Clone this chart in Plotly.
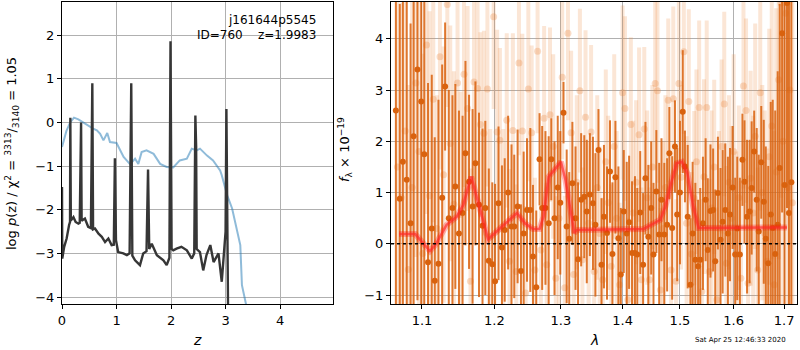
import plotly.graph_objects as go

# ---------------- left panel: redshift PDF ----------------
pz_z = [0.0, 0.005, 0.04, 0.085, 0.13, 0.147, 0.153, 0.162, 0.21, 0.25, 0.30, 0.325, 0.35, 0.36,
        0.42, 0.48, 0.53, 0.556, 0.57, 0.605, 0.67, 0.73, 0.79, 0.85, 0.91, 0.95, 0.97, 0.99,
        1.03, 1.125, 1.19, 1.24, 1.27, 1.29, 1.34, 1.43, 1.49, 1.55, 1.578, 1.60, 1.646, 1.74,
        1.86, 1.92, 1.97, 1.99, 2.01, 2.04, 2.10, 2.19, 2.29, 2.38, 2.425, 2.446, 2.46, 2.47,
        2.53, 2.59, 2.65, 2.72, 2.78, 2.87, 2.93, 2.96, 3.0, 3.015, 3.03, 3.05]
pz_logp = [-1.48, -3.12, -2.85, -2.66, -2.35, -2.28, 0.11, -2.25, -2.17, -2.28, -2.32, -2.3, 0.0, -2.25,
           -2.2, -2.39, -2.42, 0.9, -2.45, -2.43, -2.55, -2.62, -2.74, -2.66, -2.81, -2.8, -0.82, -2.7,
           -2.97, -3.0, -3.04, -3.0, 0.9, -3.05, -3.16, -3.27, -3.0, -2.95, -1.08, -2.9, -2.78, -3.04,
           -3.16, -3.27, -3.1, 1.86, -2.9, -2.93, -2.89, -2.85, -2.93, -3.12, -3.0, 0.16, -0.54, -2.9,
           -2.97, -3.39, -3.04, -2.81, -3.2, -3.0, -3.65, -3.2, -2.5, 0.31, -2.0, -5.0]

chi_z = [0.0, 0.08, 0.15, 0.22, 0.30, 0.39, 0.48, 0.57, 0.64, 0.70, 0.76, 0.83, 0.88, 1.0, 1.13,
         1.25, 1.34, 1.40, 1.46, 1.55, 1.68, 1.80, 1.92, 2.04, 2.16, 2.29, 2.38, 2.47, 2.53,
         2.66, 2.77, 2.90, 2.93, 3.03, 3.12, 3.27, 3.30, 3.38, 3.45]
chi_val = [-0.56, -0.2, 0.0, 0.11, 0.07, 0.0, -0.08, -0.14, -0.18, -0.26, -0.41, -0.24, -0.45, -0.47, -0.79,
           -0.96, -0.83, -0.95, -0.68, -0.64, -0.72, -0.95, -1.02, -1.03, -0.87, -0.83, -0.6, -0.64, -0.6,
           -0.76, -0.87, -1.1, -1.21, -1.67, -1.97, -2.81, -3.73, -4.14, -4.6]

# ---------------- right panel: 1D spectrum ----------------
dark_wave = [
    1.066, 1.071, 1.075, 1.080, 1.085, 1.089, 1.094, 1.099, 1.103, 1.108,
    1.113, 1.117, 1.122, 1.127, 1.131, 1.136, 1.141, 1.145, 1.150, 1.155,
    1.159, 1.164, 1.169, 1.173, 1.178, 1.183, 1.187, 1.192, 1.197, 1.201,
    1.206, 1.211, 1.215, 1.220, 1.225, 1.229, 1.234, 1.239, 1.243, 1.248,
    1.253, 1.257, 1.262, 1.267, 1.271, 1.276, 1.281, 1.285, 1.290, 1.295,
    1.299, 1.304, 1.309, 1.313, 1.318, 1.323, 1.327, 1.332, 1.337, 1.341,
    1.346, 1.351, 1.355, 1.360, 1.365, 1.369, 1.374, 1.379, 1.383, 1.388,
    1.393, 1.397, 1.402, 1.407, 1.411, 1.416, 1.421, 1.425, 1.430, 1.435,
    1.439, 1.444, 1.449, 1.453, 1.458, 1.463, 1.467, 1.472, 1.477, 1.481,
    1.486, 1.491, 1.495, 1.500, 1.505, 1.509, 1.514, 1.519, 1.523, 1.528,
    1.533, 1.537, 1.542, 1.547, 1.551, 1.556, 1.561, 1.565, 1.570, 1.575,
    1.579, 1.584, 1.589, 1.593, 1.598, 1.603, 1.607, 1.612, 1.617, 1.621,
    1.626, 1.631, 1.635, 1.640, 1.645, 1.649, 1.654, 1.659, 1.663, 1.668,
    1.673, 1.677, 1.682, 1.687, 1.691, 1.696, 1.701, 1.706, 1.710, 1.715]
dark_flux = [
    2.6, 0.88, 1.6, 1.25, 0.4, 2.1, 3.4, 2.78, 1.75, -0.36,
    0.3, -0.72, -0.39, 0.9, 3.07, 0.5, 0.7, 1.12, 0.2, 0.6,
    1.77, 1.21, 0.73, 1.57, 0.76, 0.35, 0.7, -0.33, -0.4, -0.73,
    0.79, -0.07, 0.27, 1.0, 0.34, 0.34, 0.73, -0.53, 0.2, 0.66,
    0.66, -0.25, -0.85, 1.65, 0.7, 0.7, 0.4, 1.65, 0.5, 1.1,
    0.8, 2.56, 0.34, 0.1, 1.18, 0.5, -0.3, 0.86, 0.92, 0.63,
    0.96, 0.79, 0.37, 1.83, -0.41, 0.53, 0.21, 1.41, -0.2, 1.3,
    0.11, -0.6, 0.63, 0.2, 0.42, -0.18, -0.18, -0.21, 0.61, -0.41,
    1.28, 0.14, 0.7, -0.21, 1.02, 0.18, 0.86, 0.18, 0.37, 1.77,
    0.31, 1.9, 0.57, 1.0, 2.58, 1.51, 0.53, -0.8, 0.2, -0.31,
    -0.44, -0.31, 0.4, 0.86, -0.12, 0.64, 0.66, -0.34, 0.99, 0.08,
    0.43, 0.66, 0.2, 0.57, 1.1, -0.21, 0.3, -0.21, 1.64, 1.21,
    0.53, 0.63, 1.09, 1.8, 0.86, 0.24, 1.59, 0.82, 0.1, -0.38,
    0.57, 0.31, -0.2, 0.37, 1.48, 4.11, 1.15, 4.7, 0.6, 1.2]
dark_err = [
    4.0, 3.8, 4.2, 3.6, 3.9, 4.1, 4.5, 4.0, 3.2, 3.5,
    3.0, 2.8, 3.2, 2.6, 1.25, 2.5, 2.2, 2.0, 2.4, 1.9,
    1.8, 1.7, 1.9, 1.6, 1.8, 1.9, 1.7, 1.8, 1.6, 1.9,
    1.5, 1.6, 1.4, 1.5, 1.6, 1.4, 1.5, 1.3, 1.6, 1.4,
    1.6, 1.4, 1.5, 0.9, 1.6, 1.5, 1.7, 0.8, 1.5, 1.4,
    1.4, 0.6, 1.5, 1.3, 1.2, 1.4, 1.5, 1.3, 1.2, 1.4,
    1.2, 1.3, 1.4, 0.8, 1.3, 1.4, 1.3, 1.0, 1.4, 1.1,
    1.4, 1.3, 1.2, 1.4, 1.3, 1.4, 1.5, 1.3, 1.2, 1.4,
    1.1, 1.4, 1.3, 1.4, 1.2, 1.4, 1.2, 1.4, 1.3, 0.9,
    1.4, 0.9, 1.3, 1.4, 1.2, 0.7, 1.4, 1.3, 1.4, 1.5,
    1.3, 1.4, 1.3, 1.2, 1.4, 1.3, 1.2, 1.4, 1.1, 1.4,
    1.4, 1.3, 1.5, 1.3, 1.2, 1.5, 1.4, 1.5, 0.9, 1.2,
    1.5, 1.4, 1.3, 0.8, 1.4, 1.5, 1.1, 1.6, 1.8, 1.9,
    2.2, 2.5, 2.8, 3.0, 3.2, 3.5, 3.8, 4.0, 4.2, 4.5]

light_wave = [
    1.068, 1.073, 1.078, 1.082, 1.087, 1.092, 1.096, 1.101, 1.106, 1.110,
    1.115, 1.120, 1.124, 1.129, 1.134, 1.138, 1.143, 1.148, 1.152, 1.157,
    1.162, 1.166, 1.171, 1.176, 1.180, 1.185, 1.190, 1.194, 1.199, 1.204,
    1.208, 1.213, 1.218, 1.222, 1.227, 1.232, 1.236, 1.241, 1.246, 1.250,
    1.255, 1.260, 1.264, 1.269, 1.274, 1.278, 1.283, 1.288, 1.292, 1.297,
    1.302, 1.306, 1.311, 1.316, 1.320, 1.325, 1.330, 1.334, 1.339, 1.344,
    1.348, 1.353, 1.358, 1.362, 1.367, 1.372, 1.376, 1.381, 1.386, 1.390,
    1.395, 1.400, 1.404, 1.409, 1.414, 1.418, 1.423, 1.428, 1.432, 1.437,
    1.442, 1.446, 1.451, 1.456, 1.460, 1.465, 1.470, 1.474, 1.479, 1.484,
    1.488, 1.493, 1.498, 1.502, 1.507, 1.512, 1.516, 1.521, 1.526, 1.530,
    1.535, 1.540, 1.544, 1.549, 1.554, 1.558, 1.563, 1.568, 1.572, 1.577,
    1.582, 1.586, 1.591, 1.596, 1.600, 1.605, 1.610, 1.614, 1.619, 1.624,
    1.628, 1.633, 1.638, 1.642, 1.647, 1.652, 1.656, 1.661, 1.666, 1.670,
    1.675, 1.680, 1.684, 1.689, 1.694, 1.698, 1.703, 1.708, 1.712, 1.717]
light_flux = [
    1.5, 0.9, 2.2, -0.5, 1.1, 3.14, 1.8, -0.19, 3.88, 0.94,
    2.82, 0.3, 3.65, 1.35, 4.67, 1.96, 0.77, 3.14, 0.57, 3.31,
    2.64, -0.73, 3.16, 3.03, 2.33, 2.16, 3.02, 0.14, 4.43, 2.18,
    2.02, 0.34, 2.41, -0.34, 2.21, -0.54, 3.53, 2.2, -0.96, 3.02,
    2.17, -0.51, 3.76, -0.12, 2.45, -0.41, 2.52, 1.9, -0.67, 0.5,
    3.25, -0.86, 4.11, 2.17, -0.6, 1.2, 2.99, -0.31, 2.47, 0.4,
    2.18, -0.54, 1.1, 0.2, -0.7, 1.6, 0.8, -0.44, 1.9, 0.5,
    -0.8, 2.95, 2.64, -1.09, 2.33, 0.6, 1.2, 2.13, -0.7, 2.24,
    0.9, -0.7, 1.5, 3.13, 2.99, -0.9, 0.3, 1.1, 2.8, -0.51,
    2.83, -0.73, 3.13, 1.3, 3.75, 0.4, 2.78, -0.2, 0.89, 1.6,
    2.66, -0.93, 1.31, 2.66, -0.54, 0.7, 1.5, -1.09, 0.3, 1.9,
    2.73, -0.38, 1.2, 0.5, 1.8, -0.2, 0.9, -0.67, 3.08, 2.6,
    -0.77, 1.28, 0.6, 2.1, -0.51, 2.95, 1.0, 0.2, -0.34, 1.7,
    2.3, -0.8, 1.4, 3.2, 4.7, 2.0, 4.5, 1.1, 3.0, 0.8]
light_err = [
    3.5, 3.8, 3.2, 3.6, 4.0, 3.4, 3.7, 3.9, 3.3, 3.6,
    2.4, 2.6, 2.2, 2.5, 2.0, 2.3, 2.6, 2.1, 2.4, 2.2,
    2.0, 2.2, 1.9, 2.1, 1.8, 2.0, 1.9, 2.1, 1.8, 2.0,
    1.8, 1.9, 1.7, 1.8, 1.9, 1.7, 1.8, 1.9, 1.7, 1.8,
    1.7, 1.8, 1.6, 1.7, 1.8, 1.6, 1.7, 1.8, 1.6, 1.7,
    1.6, 1.8, 1.7, 1.6, 1.8, 1.7, 1.6, 1.8, 1.7, 1.6,
    1.7, 1.6, 1.8, 1.7, 1.6, 1.8, 1.7, 1.6, 1.8, 1.7,
    1.6, 1.7, 1.8, 1.6, 1.7, 1.8, 1.6, 1.7, 1.8, 1.6,
    1.7, 1.8, 1.6, 1.7, 1.8, 1.6, 1.7, 1.8, 1.6, 1.7,
    1.8, 1.6, 1.7, 1.8, 1.6, 1.7, 1.8, 1.6, 1.7, 1.8,
    1.7, 1.8, 1.9, 1.7, 1.8, 1.9, 1.7, 1.8, 1.9, 1.7,
    1.8, 1.9, 1.7, 1.8, 1.9, 2.0, 1.8, 1.9, 2.0, 1.8,
    2.0, 2.1, 1.9, 2.2, 2.0, 2.3, 2.1, 2.4, 2.2, 2.5,
    2.6, 3.0, 3.2, 3.5, 3.8, 4.0, 4.2, 4.5, 4.8, 5.0]

model_wave = [1.070, 1.091, 1.1105, 1.118, 1.133, 1.147, 1.156, 1.167, 1.191, 1.2055, 1.233,
              1.245, 1.257, 1.267, 1.273, 1.281, 1.300, 1.307, 1.315, 1.321, 1.325, 1.436,
              1.465, 1.474, 1.484, 1.494, 1.5036, 1.5135, 1.524, 1.534, 1.706]
model_flux = [0.19, 0.19, -0.14, -0.02, 0.37, 0.53, 0.76, 1.31, 0.09, 0.27, 0.6,
              0.40, 0.29, 0.29, 0.53, 1.31, 1.6, 1.25, 0.6, 0.21, 0.27, 0.29,
              0.47, 0.73, 1.18, 1.57, 1.6, 1.38, 0.73, 0.31, 0.32]

lam_ticks = [1.1, 1.2, 1.3, 1.4, 1.5, 1.6, 1.7]
lam_ticklabels = ["1.1", "1.2", "1.3", "1.4", "1.5", "1.6", "1.7"]

assert len(dark_wave) == len(dark_flux) == len(dark_err)
assert len(light_wave) == len(light_flux) == len(light_err)
assert len(pz_z) == len(pz_logp)
assert len(chi_z) == len(chi_val)
assert len(model_wave) == len(model_flux)

FONT = "DejaVu Sans"
fig = go.Figure()

# left panel
fig.add_trace(go.Scatter(x=chi_z, y=chi_val, mode="lines", xaxis="x", yaxis="y",
                         line=dict(color="rgba(31,119,180,0.5)", width=2), showlegend=False))
fig.add_trace(go.Scatter(x=pz_z, y=pz_logp, mode="lines", xaxis="x", yaxis="y",
                         line=dict(color="#363636", width=2.4), showlegend=False))

# right panel
fig.add_trace(go.Scatter(x=light_wave, y=light_flux, mode="markers", xaxis="x2", yaxis="y2",
                         marker=dict(color="rgba(235,140,70,0.3)", size=7),
                         error_y=dict(type="data", array=light_err, thickness=4, width=0,
                                      color="rgba(235,140,70,0.22)"),
                         showlegend=False))
fig.add_trace(go.Scatter(x=dark_wave, y=dark_flux, mode="markers", xaxis="x2", yaxis="y2",
                         marker=dict(color="#d9620e", size=6),
                         error_y=dict(type="data", array=dark_err, thickness=2, width=0,
                                      color="rgba(217,98,14,0.85)"),
                         showlegend=False))
fig.add_trace(go.Scatter(x=model_wave, y=model_flux, mode="lines", xaxis="x2", yaxis="y2",
                         line=dict(color="rgba(255,0,0,0.28)", width=6), showlegend=False))
fig.add_trace(go.Scatter(x=model_wave, y=model_flux, mode="lines", xaxis="x2", yaxis="y2",
                         line=dict(color="rgba(255,40,40,0.65)", width=2.5), showlegend=False))

fig.add_shape(type="line", xref="x2 domain", yref="y2", x0=0, x1=1, y0=0, y1=0,
              line=dict(color="black", width=1.6, dash="dot"), layer="above")

axis_common = dict(showline=True, linecolor="black", linewidth=1, mirror=True,
                   ticks="outside", ticklen=4, tickcolor="black", tickwidth=1,
                   showgrid=True, gridcolor="#b0b0b0", gridwidth=1, zeroline=False,
                   tickfont=dict(family=FONT, size=13, color="black"))

fig.update_layout(
    width=800, height=350,
    margin=dict(l=62, r=3, t=2, b=46),
    paper_bgcolor="white", plot_bgcolor="white",
    font=dict(family=FONT, size=13, color="black"),
    xaxis=dict(domain=[0, 0.3687], range=[0, 4.97], anchor="y",
               tickvals=[0, 1, 2, 3, 4], **axis_common),
    yaxis=dict(domain=[0, 1], range=[-4.16, 2.76], anchor="x",
               tickvals=[-4, -3, -2, -1, 0, 1, 2], **axis_common),
    xaxis2=dict(domain=[0.4476, 1.0], type="log", range=[0.0252, 0.2372], anchor="y2",
                tickvals=lam_ticks, ticktext=lam_ticklabels, **axis_common),
    yaxis2=dict(domain=[0, 1], range=[-1.175, 4.72], anchor="x2",
                tickvals=[-1, 0, 1, 2, 3, 4], **axis_common),
)

annotations = [
    dict(text="j161644p5545", x=318, y=20),
    dict(text="ID=760    z=1.9983", x=318, y=35),
]
for a in annotations:
    fig.add_annotation(text=a["text"].replace("    ", "&nbsp;&nbsp;&nbsp;&nbsp;"),
                       xref="paper", yref="paper",
                       x=(a["x"] - 62) / 735, y=1 - (a["y"] - 2) / 302,
                       xanchor="right", yanchor="middle", showarrow=False,
                       font=dict(family=FONT, size=12, color="black"))

# axis titles
fig.add_annotation(text="<i>z</i>", xref="paper", yref="paper",
                   x=(197 - 62) / 735, y=1 - (340 - 2) / 302, xanchor="center", yanchor="middle",
                   showarrow=False, font=dict(family=FONT, size=14))
fig.add_annotation(text="<i>λ</i>", xref="paper", yref="paper",
                   x=(594 - 62) / 735, y=1 - (340 - 2) / 302, xanchor="center", yanchor="middle",
                   showarrow=False, font=dict(family=FONT, size=14))
fig.add_annotation(text="log <i>p</i>(z) / χ<sup>2</sup> = <sup>3313</sup>/<sub>3140</sub> = 1.05",
                   xref="paper", yref="paper", textangle=-90,
                   x=(12 - 62) / 735, y=1 - (154 - 2) / 302, xanchor="center", yanchor="middle",
                   showarrow=False, font=dict(family=FONT, size=13))
fig.add_annotation(text="<i>f</i><sub>λ</sub> × 10<sup>−19</sup>",
                   xref="paper", yref="paper", textangle=-90,
                   x=(345 - 62) / 735, y=1 - (150 - 2) / 302, xanchor="center", yanchor="middle",
                   showarrow=False, font=dict(family=FONT, size=13))
fig.add_annotation(text="Sat Apr 25 12:46:33 2020", xref="paper", yref="paper",
                   x=(788 - 62) / 735, y=1 - (340 - 2) / 302, xanchor="right", yanchor="middle",
                   showarrow=False, font=dict(family=FONT, size=7))

fig.write_html("out.html", config={"displayModeBar": False},
               post_script="document.body.style.margin='0';document.body.style.overflow='hidden';")
